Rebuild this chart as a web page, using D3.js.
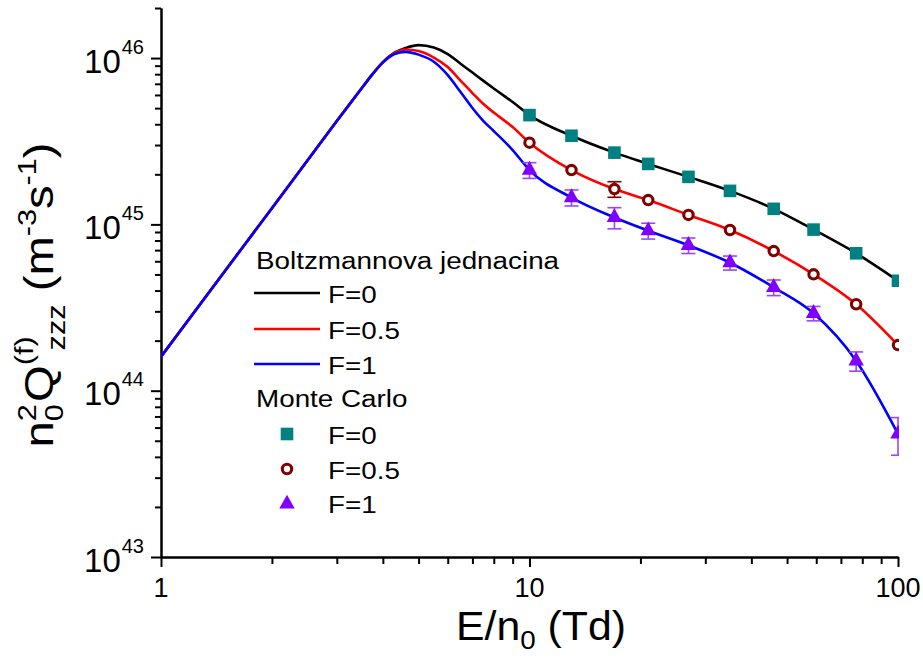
<!DOCTYPE html>
<html><head><meta charset="utf-8">
<script src="https://cdn.jsdelivr.net/npm/d3@7"></script>
<style>
body{margin:0;background:#fff}
svg{display:block}
text{font-family:"Liberation Sans",Arial,Helvetica,sans-serif;fill:#000}
</style>
</head><body>
<svg id="chart" width="923" height="658"></svg>
<script>
// ---------- data ----------
const xCurve = [1,1.5,2,2.5,3,3.5,3.75,4,4.3,4.6,5,5.5,6,6.5,7,7.5,8,9,10,13,17,21,27,35,46,59,77,100];
const boltzF0 = [1.60e44,5.34e44,1.25e45,2.43e45,4.18e45,6.56e45,8.01e45,9.46e45,1.079e46,1.148e46,1.197e46,1.156e46,1.057e46,9.25e45,8.18e45,7.29e45,6.56e45,5.44e45,4.54e45,3.41e45,2.70e45,2.31e45,1.93e45,1.59e45,1.24e45,9.3e44,6.7e44,4.58e44];
const boltzF05 = [1.60e44,5.34e44,1.25e45,2.43e45,4.18e45,6.56e45,8.01e45,9.46e45,1.072e46,1.125e46,1.102e46,1.007e46,8.83e45,7.32e45,6.16e45,5.29e45,4.70e45,3.85e45,3.10e45,2.12e45,1.63e45,1.40e45,1.14e45,9.25e44,6.91e44,5.01e44,3.31e44,1.88e44];
const boltzF1 = [1.60e44,5.34e44,1.25e45,2.43e45,4.18e45,6.56e45,8.0e45,9.39e45,1.057e46,1.090e46,1.049e46,9.50e45,7.90e45,6.25e45,5.01e45,4.18e45,3.64e45,2.80e45,2.12e45,1.45e45,1.10e45,9.16e44,7.48e44,5.88e44,4.18e44,2.92e44,1.51e44,5.5e43];

const xMC = [10,13,17,21,27,35,46,59,77,100];
const mcF0 = [4.54e45,3.41e45,2.70e45,2.31e45,1.93e45,1.59e45,1.24e45,9.3e44,6.7e44,4.58e44];
const mcF05 = [3.10e45,2.12e45,1.63e45,1.40e45,1.14e45,9.25e44,6.91e44,5.01e44,3.31e44,1.88e44];
const mcF05Err = [0,0,1.75e44,0,0,0,0,0,0,0];
const mcF1 = [2.12e45,1.45e45,1.10e45,9.16e44,7.48e44,5.88e44,4.18e44,2.92e44,1.51e44,5.49e43];
const mcF1Err = [2.3e44,1.6e44,1.6e44,1.0e44,8.0e43,5.7e43,4.5e43,2.9e43,2.0e43,1.4e43];

const xTickLabels = ["1","10","100"];
const xTickValues = [1,10,100];
const yTickExps = ["43","44","45","46"];
const yTickValues = [1e43,1e44,1e45,1e46];

const legendLineLabels = ["F=0","F=0.5","F=1"];
const legendMCLabels = ["F=0","F=0.5","F=1"];
const titleBoltz = "Boltzmannova jednacina";
const titleMC = "Monte Carlo";

// ---------- scales ----------
const svg = d3.select("#chart");
const x = d3.scaleLog().domain([1,100]).range([161,898]);
const y = d3.scaleLog().domain([1e43,2e46]).range([557,8]);

const lineColors = ["#000000","#ff0000","#0000ff"];
const sqColor = "#008080", circColor = "#800000", triColor = "#8000ff", triErrColor = "#9a44ff";

svg.append("defs").append("clipPath").attr("id","plotclip")
  .append("rect").attr("x",x.range()[0]).attr("y",0).attr("width",x.range()[1]-x.range()[0]+1).attr("height",y.range()[0]);

// minor ticks
const xMinor = [];
for (const d of [1,10]) for (let k=2;k<=9;k++) xMinor.push(d*k);
const yMinor = [];
for (const d of [1e43,1e44,1e45]) for (let k=2;k<=9;k++) yMinor.push(d*k);
yMinor.push(2e46);

function styleAxis(g){
  g.selectAll("path.domain").attr("stroke","#000").attr("stroke-width",2);
  g.selectAll(".tick line").attr("stroke","#000").attr("stroke-width",2);
}
// X axis
svg.append("g").attr("transform","translate(0,557)")
  .call(d3.axisBottom(x).tickValues(xMinor).tickSize(7).tickSizeOuter(0).tickFormat(""))
  .call(styleAxis);
svg.append("g").attr("transform","translate(0,557)")
  .call(d3.axisBottom(x).tickValues(xTickValues).tickSize(10).tickSizeOuter(0).tickFormat(""))
  .call(styleAxis);
// Y axis
svg.append("g").attr("transform","translate(161,0)")
  .call(d3.axisLeft(y).tickValues(yMinor).tickSize(6).tickSizeOuter(0).tickFormat(""))
  .call(styleAxis);
svg.append("g").attr("transform","translate(161,0)")
  .call(d3.axisLeft(y).tickValues(yTickValues).tickSize(10).tickSizeOuter(0).tickFormat(""))
  .call(styleAxis);

// X tick labels
svg.append("g").selectAll("text").data(xTickValues).join("text")
  .attr("x",d=>x(d)).attr("y",597).attr("text-anchor","middle")
  .attr("font-size",27).text((d,i)=>xTickLabels[i]);

// Y tick labels
yTickValues.forEach((v,i)=>{
  const t = svg.append("text").attr("x",144).attr("y",y(v)+14.5).attr("text-anchor","end");
  t.append("tspan").attr("font-size",33).text("10");
  t.append("tspan").attr("font-size",20).attr("dy",-19).attr("dx",1).text(yTickExps[i]);
});

// X axis title
{
  const t = svg.append("text").attr("transform","translate(541,640) scale(1.07,1)")
    .attr("text-anchor","middle").attr("font-size",40);
  t.append("tspan").text("E/n");
  t.append("tspan").attr("font-size",26).attr("dy",9).text("0");
  t.append("tspan").attr("dy",-9).text(" (Td)");
}
// Y axis title (rotated)
{
  const t = svg.append("text").attr("transform","translate(53,295) rotate(-90) scale(1.18,1)")
    .attr("text-anchor","middle").attr("font-size",40);
  t.append("tspan").text("n");
  t.append("tspan").attr("font-size",26).attr("dy",10).text("0");
  t.append("tspan").attr("font-size",26).attr("dx",-14.5).attr("dy",-27).text("2");
  t.append("tspan").attr("dy",17).attr("dx",2).text("Q");
  t.append("tspan").attr("font-size",26).attr("dy",-20).text("(f)");
  t.append("tspan").attr("font-size",26).attr("dx",-12).attr("dy",32).text("zzz");
  t.append("tspan").attr("dy",-12).text(" (m");
  t.append("tspan").attr("font-size",26).attr("dy",-17).text("-3");
  t.append("tspan").attr("dy",17).text("s");
  t.append("tspan").attr("font-size",26).attr("dy",-17).text("-1");
  t.append("tspan").attr("dy",17).text(")");
}

// ---------- plot area (clipped) ----------
const plot = svg.append("g").attr("clip-path","url(#plotclip)");
const line = d3.line().x(d=>x(d[0])).y(d=>y(d[1])).curve(d3.curveMonotoneX);
[boltzF0,boltzF05,boltzF1].forEach((s,i)=>{
  plot.append("path").datum(xCurve.map((xv,j)=>[xv,s[j]]))
    .attr("d",line).attr("fill","none").attr("stroke",lineColors[i]).attr("stroke-width",2.6)
    .attr("stroke-linejoin","round");
});

function errBars(vals, errs, color){
  const g = plot.append("g").attr("stroke",color).attr("stroke-width",1.6).attr("fill","none");
  xMC.forEach((xv,i)=>{
    if(!errs[i]) return;
    const px = x(xv), top = y(vals[i]+errs[i]), bot = y(vals[i]-errs[i]);
    g.append("line").attr("x1",px).attr("x2",px).attr("y1",top).attr("y2",bot);
    g.append("line").attr("x1",px-7).attr("x2",px+7).attr("y1",top).attr("y2",top);
    g.append("line").attr("x1",px-7).attr("x2",px+7).attr("y1",bot).attr("y2",bot);
  });
}
errBars(mcF05, mcF05Err, circColor);
errBars(mcF1, mcF1Err, triErrColor);

const triPath = "M0,-9.3L7.7,4.6L-7.7,4.6Z";
function squares(g, pts){ g.selectAll("rect").data(pts).join("rect")
  .attr("x",d=>d[0]-6.3).attr("y",d=>d[1]-6.3).attr("width",12.6).attr("height",12.6).attr("fill",sqColor); }
function circles(g, pts){ g.selectAll("circle").data(pts).join("circle")
  .attr("cx",d=>d[0]).attr("cy",d=>d[1]).attr("r",4.7).attr("fill","#fff").attr("stroke",circColor).attr("stroke-width",3.1); }
function tris(g, pts){ g.selectAll("path").data(pts).join("path")
  .attr("transform",d=>`translate(${d[0]},${d[1]})`).attr("d",triPath).attr("fill",triColor); }

squares(plot.append("g"), xMC.map((xv,i)=>[x(xv),y(mcF0[i])]));
circles(plot.append("g"), xMC.map((xv,i)=>[x(xv),y(mcF05[i])]));
tris(plot.append("g"), xMC.map((xv,i)=>[x(xv),y(mcF1[i])]));

// ---------- legend ----------
const lg = svg.append("g");
const sx = 1.21;
function legText(txt, px, py){
  lg.append("text").attr("transform",`translate(${px},${py}) scale(${sx},1)`).attr("font-size",23).text(txt);
}
legText(titleBoltz, 256, 269);
const lineRowsY = [293,329,364];
legendLineLabels.forEach((lab,i)=>{
  lg.append("line").attr("x1",254).attr("x2",320).attr("y1",lineRowsY[i]).attr("y2",lineRowsY[i])
    .attr("stroke",lineColors[i]).attr("stroke-width",2.6);
  legText(lab, 328, lineRowsY[i]+10);
});
legText(titleMC, 256, 407);
const mcRowsY = [434,469,503];
squares(lg.append("g"), [[287,mcRowsY[0]]]);
circles(lg.append("g"), [[287,mcRowsY[1]]]);
tris(lg.append("g"), [[287,mcRowsY[2]+1]]);
legendMCLabels.forEach((lab,i)=>legText(lab, 328, mcRowsY[i]+9.5));
</script>
</body></html>
